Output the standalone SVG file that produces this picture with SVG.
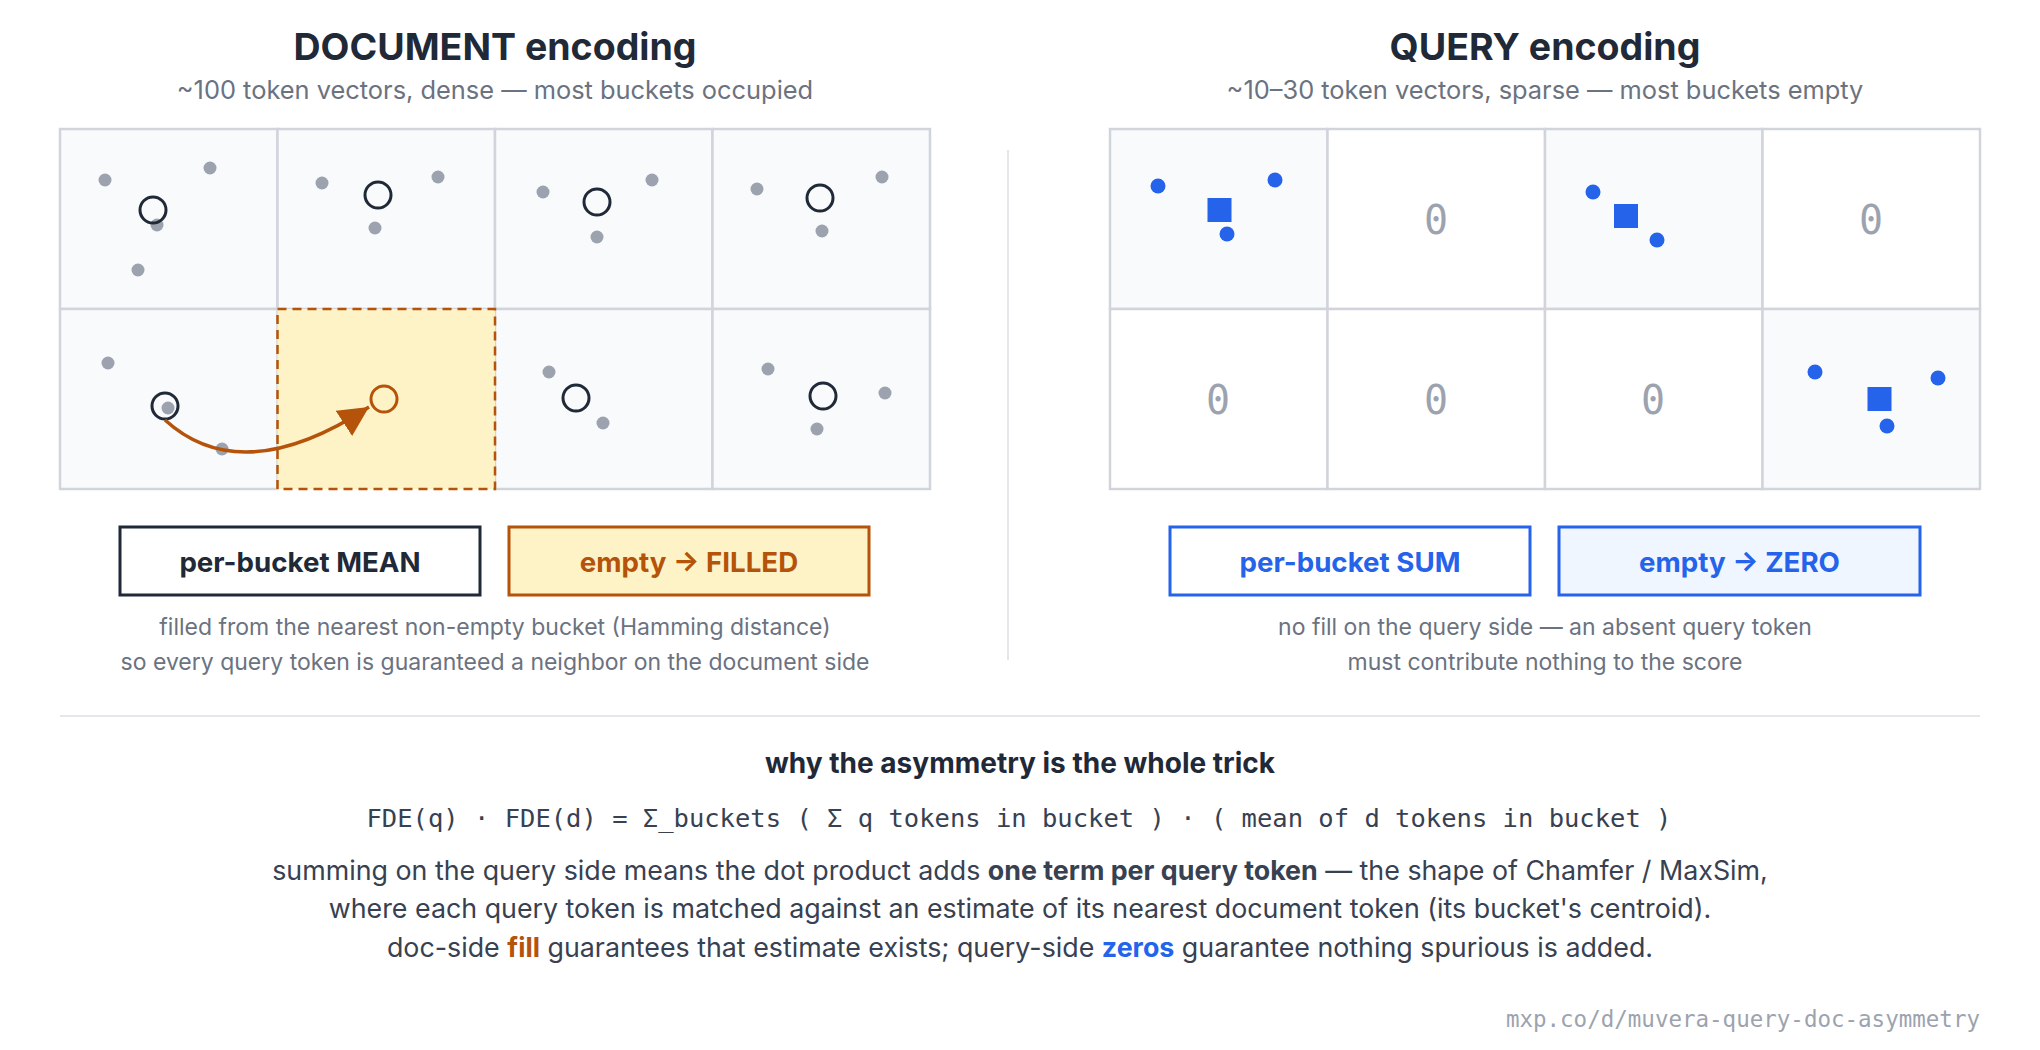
<svg xmlns="http://www.w3.org/2000/svg" width="2040" height="1050" viewBox="0 0 2040 1050">
<defs>
<style>
text{font-family:Inter,"Noto Sans","Liberation Sans",sans-serif}
.title{font-size:37.5px;font-weight:700;fill:#1f2937;text-anchor:middle}
.sub{font-size:25.4px;fill:#6b7280;text-anchor:middle}
.cap{font-size:23px;fill:#6b7280;text-anchor:middle}
.btn{font-size:27.7px;font-weight:700;text-anchor:middle}
.cell{fill:#f8fafc;stroke:#d1d5db;stroke-width:2.5}
.ecell{fill:#ffffff;stroke:#d1d5db;stroke-width:2.5}
.hcell{fill:#fef3c7;stroke:#b45309;stroke-width:2.5;stroke-dasharray:9 6}
.dot{fill:#9ca3af}
.cen{fill:none;stroke:#1f2937;stroke-width:3}
.qdot{fill:#2563eb}
.qsq{fill:#2563eb}
.zero{font-family:"DejaVu Sans Mono","Liberation Mono",monospace;font-size:40px;fill:#9ca3af;text-anchor:middle}
.rule{stroke:#e5e7eb;stroke-width:2}
.head{font-size:28px;font-weight:700;fill:#1f2937;text-anchor:middle}
.mono{font-family:"DejaVu Sans Mono","Liberation Mono",monospace;font-size:25.5px;fill:#374151;text-anchor:middle}
.para{font-size:26.8px;fill:#374151;text-anchor:middle}
.foot{font-family:"DejaVu Sans Mono","Liberation Mono",monospace;font-size:22.5px;fill:#9ca3af;text-anchor:end}
</style>
<marker id="arr" markerUnits="userSpaceOnUse" markerWidth="32" markerHeight="30" refX="30" refY="15" orient="auto" viewBox="0 0 32 30">
<path d="M0,0 L30,15 L0,30 Z" fill="#b45309"/>
</marker>
</defs>
<rect width="2040" height="1050" fill="#ffffff"/>

<g id="doc-header">
<text class="title" x="495" y="60">DOCUMENT encoding</text>
<text class="sub" x="495" y="99">~100 token vectors, dense — most buckets occupied</text>
</g>

<g id="doc-grid">
<rect class="cell" x="60" y="129" width="217.5" height="180"/>
<rect class="cell" x="277.5" y="129" width="217.5" height="180"/>
<rect class="cell" x="495" y="129" width="217.5" height="180"/>
<rect class="cell" x="712.5" y="129" width="217.5" height="180"/>
<rect class="cell" x="60" y="309" width="217.5" height="180"/>
<rect class="cell" x="495" y="309" width="217.5" height="180"/>
<rect class="cell" x="712.5" y="309" width="217.5" height="180"/>
</g>
<g id="doc-filled-bucket">
<rect class="hcell" x="277.5" y="309" width="217.5" height="180"/>
<circle cx="384" cy="399" r="13" fill="none" stroke="#b45309" stroke-width="3"/>
</g>
<g id="doc-b0">
<circle class="dot" cx="105" cy="180" r="6.5"/>
<circle class="dot" cx="210" cy="168" r="6.5"/>
<circle class="dot" cx="157" cy="225" r="6.5"/>
<circle class="dot" cx="138" cy="270" r="6.5"/>
<circle class="cen" cx="153" cy="210" r="13"/>
</g>
<g id="doc-b1">
<circle class="dot" cx="322" cy="183" r="6.5"/>
<circle class="dot" cx="438" cy="177" r="6.5"/>
<circle class="dot" cx="375" cy="228" r="6.5"/>
<circle class="cen" cx="378" cy="195" r="13"/>
</g>
<g id="doc-b2">
<circle class="dot" cx="543" cy="192" r="6.5"/>
<circle class="dot" cx="652" cy="180" r="6.5"/>
<circle class="dot" cx="597" cy="237" r="6.5"/>
<circle class="cen" cx="597" cy="202" r="13"/>
</g>
<g id="doc-b3">
<circle class="dot" cx="757" cy="189" r="6.5"/>
<circle class="dot" cx="882" cy="177" r="6.5"/>
<circle class="dot" cx="822" cy="231" r="6.5"/>
<circle class="cen" cx="820" cy="198" r="13"/>
</g>
<g id="doc-b4">
<circle class="dot" cx="108" cy="363" r="6.5"/>
<circle class="dot" cx="168" cy="408" r="6.5"/>
<circle class="dot" cx="222" cy="449" r="6.5"/>
<circle class="cen" cx="165" cy="406" r="13"/>
</g>
<g id="doc-b6">
<circle class="dot" cx="549" cy="372" r="6.5"/>
<circle class="dot" cx="603" cy="423" r="6.5"/>
<circle class="cen" cx="576" cy="398" r="13"/>
</g>
<g id="doc-b7">
<circle class="dot" cx="768" cy="369" r="6.5"/>
<circle class="dot" cx="885" cy="393" r="6.5"/>
<circle class="dot" cx="817" cy="429" r="6.5"/>
<circle class="cen" cx="823" cy="396" r="13"/>
</g>

<g id="connectors">
<path d="M165,420 Q242,490 369,407" fill="none" stroke="#b45309" stroke-width="3.5" marker-end="url(#arr)"/>
</g>

<g id="doc-mean-btn">
<rect x="120" y="527" width="360" height="68" fill="#ffffff" stroke="#1f2937" stroke-width="3"/>
<text class="btn" x="300" y="572" fill="#1f2937">per-bucket MEAN</text>
</g>
<g id="doc-fill-btn">
<rect x="509" y="527" width="360" height="68" fill="#fef3c7" stroke="#b45309" stroke-width="3"/>
<text class="btn" x="689" y="572" fill="#b45309">empty → FILLED</text>
</g>
<g id="doc-caption">
<text class="cap" x="495" y="635">filled from the nearest non-empty bucket (Hamming distance)</text>
<text class="cap" x="495" y="670">so every query token is guaranteed a neighbor on the document side</text>
</g>

<line class="rule" x1="1008" y1="150" x2="1008" y2="660"/>

<g id="query-header">
<text class="title" x="1545" y="60">QUERY encoding</text>
<text class="sub" x="1545" y="99">~10–30 token vectors, sparse — most buckets empty</text>
</g>

<g id="query-grid">
<rect class="cell" x="1110" y="129" width="217.5" height="180"/>
<rect class="ecell" x="1327.5" y="129" width="217.5" height="180"/>
<rect class="cell" x="1545" y="129" width="217.5" height="180"/>
<rect class="ecell" x="1762.5" y="129" width="217.5" height="180"/>
<rect class="ecell" x="1110" y="309" width="217.5" height="180"/>
<rect class="ecell" x="1327.5" y="309" width="217.5" height="180"/>
<rect class="ecell" x="1545" y="309" width="217.5" height="180"/>
<rect class="cell" x="1762.5" y="309" width="217.5" height="180"/>
</g>
<g id="query-b0">
<circle class="qdot" cx="1158" cy="186" r="7.5"/>
<circle class="qdot" cx="1275" cy="180" r="7.5"/>
<circle class="qdot" cx="1227" cy="234" r="7.5"/>
<rect class="qsq" x="1207.5" y="198" width="24" height="24"/>
</g>
<g id="query-b1"><text class="zero" x="1436" y="234">0</text></g>
<g id="query-b2">
<circle class="qdot" cx="1593" cy="192" r="7.5"/>
<circle class="qdot" cx="1657" cy="240" r="7.5"/>
<rect class="qsq" x="1614" y="204" width="24" height="24"/>
</g>
<g id="query-b3"><text class="zero" x="1871" y="234">0</text></g>
<g id="query-b4"><text class="zero" x="1218" y="414">0</text></g>
<g id="query-b5"><text class="zero" x="1436" y="414">0</text></g>
<g id="query-b6"><text class="zero" x="1653" y="414">0</text></g>
<g id="query-b7">
<circle class="qdot" cx="1815" cy="372" r="7.5"/>
<circle class="qdot" cx="1938" cy="378" r="7.5"/>
<circle class="qdot" cx="1887" cy="426" r="7.5"/>
<rect class="qsq" x="1867.5" y="387" width="24" height="24"/>
</g>

<g id="query-sum-btn">
<rect x="1170" y="527" width="360" height="68" fill="#ffffff" stroke="#2563eb" stroke-width="3"/>
<text class="btn" x="1350" y="572" fill="#2563eb">per-bucket SUM</text>
</g>
<g id="query-zero-btn">
<rect x="1559" y="527" width="361" height="68" fill="#eff6ff" stroke="#2563eb" stroke-width="3"/>
<text class="btn" x="1739.5" y="572" fill="#2563eb">empty → ZERO</text>
</g>
<g id="query-caption">
<text class="cap" x="1545" y="635">no fill on the query side — an absent query token</text>
<text class="cap" x="1545" y="670">must contribute nothing to the score</text>
</g>

<line class="rule" x1="60" y1="716" x2="1980" y2="716"/>

<g id="explanation">
<text class="head" x="1020" y="773">why the asymmetry is the whole trick</text>
<text class="mono" x="1019" y="827">FDE(q) · FDE(d) = Σ_buckets ( Σ q tokens in bucket ) · ( mean of d tokens in bucket )</text>
<text class="para" x="1020" y="880">summing on the query side means the dot product adds <tspan font-weight="700">one term per query token</tspan> — the shape of Chamfer / MaxSim,</text>
<text class="para" x="1020" y="918">where each query token is matched against an estimate of its nearest document token (its bucket's centroid).</text>
<text class="para" x="1020" y="957">doc-side <tspan font-weight="700" fill="#b45309">fill</tspan> guarantees that estimate exists; query-side <tspan font-weight="700" fill="#2563eb">zeros</tspan> guarantee nothing spurious is added.</text>
</g>

<text class="foot" x="1980" y="1027">mxp.co/d/muvera-query-doc-asymmetry</text>
</svg>
